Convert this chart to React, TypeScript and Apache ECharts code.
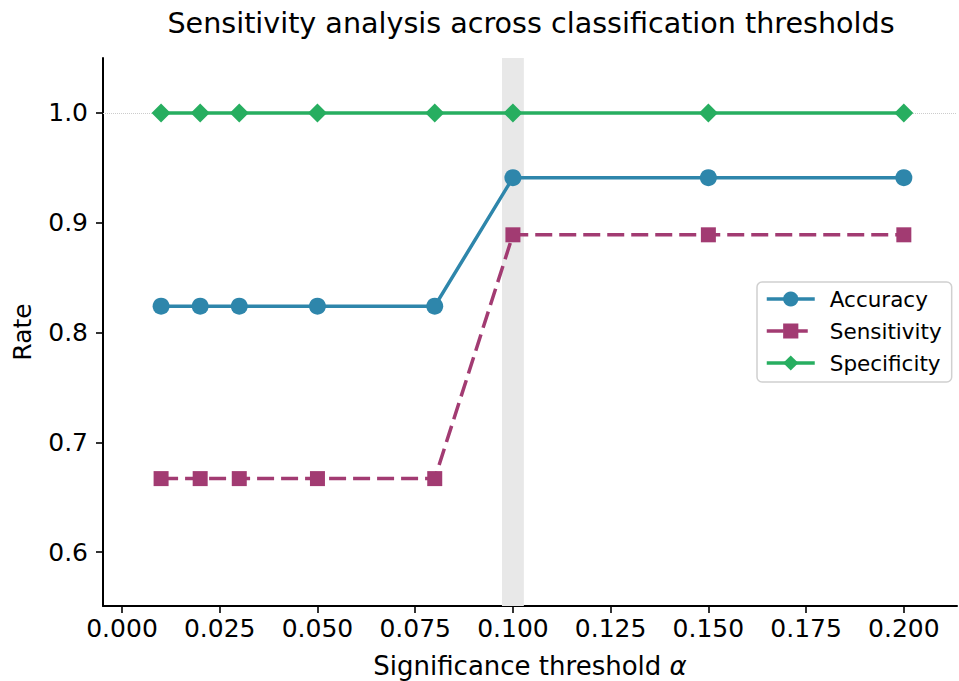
import React, { useEffect, useRef } from "react";
import * as echarts from "echarts";

const alphas = [0.01, 0.02, 0.03, 0.05, 0.08, 0.1, 0.15, 0.2];
const accuracy = [0.824, 0.824, 0.824, 0.824, 0.824, 0.941, 0.941, 0.941];
const sensitivity = [0.667, 0.667, 0.667, 0.667, 0.667, 0.889, 0.889, 0.889];
const specificity = [1.0, 1.0, 1.0, 1.0, 1.0, 1.0, 1.0, 1.0];
const xTicks = [0, 0.025, 0.05, 0.075, 0.1, 0.125, 0.15, 0.175, 0.2];
const yTicks = [0.6, 0.7, 0.8, 0.9, 1.0];
const band = [0.0972, 0.1028];
const refLine = 1.0;

const FONT = "DejaVu Sans";

export default function App() {
  const ref = useRef<HTMLDivElement>(null);
  useEffect(() => {
    if (!ref.current) return;
    const chart = echarts.init(ref.current, null, { renderer: "svg" });
    const pair = (ys: number[]) => alphas.map((x, i) => [x, ys[i]]);
    chart.setOption({
      animation: false,
      backgroundColor: "#ffffff",
      textStyle: { fontFamily: FONT },
      title: {
        text: "Sensitivity analysis across classification thresholds",
        left: 531,
        top: 8,
        textAlign: "center",
        padding: 0,
        textStyle: { fontFamily: FONT, fontSize: 28.6, fontWeight: "normal", color: "#000" },
      },
      grid: { left: 103, right: 2, top: 58, bottom: 75, outerBoundsMode: "none", containLabel: false },
      legend: {
        orient: "vertical",
        left: 757,
        top: 282,
        padding: [6, 10, 8, 8],
        itemWidth: 48,
        itemHeight: 19,
        itemGap: 10,
        backgroundColor: "rgba(255,255,255,0.85)",
        borderColor: "#d0d0d0",
        borderWidth: 1.5,
        borderRadius: 5,
        lineStyle: { width: 3.5 },
        textStyle: { fontFamily: FONT, fontSize: 21.5, color: "#000", padding: [0, 0, 0, 10] },
        data: ["Accuracy", "Sensitivity", "Specificity"],
      },
      xAxis: {
        type: "value",
        min: -0.00486,
        max: 0.2136,
        name: "Significance threshold {i|α}",
        nameLocation: "middle",
        nameGap: 47,
        nameTextStyle: {
          fontFamily: FONT,
          fontSize: 26,
          color: "#000",
          rich: { i: { fontFamily: FONT, fontSize: 26, fontStyle: "italic", color: "#000" } },
        },
        axisLine: { show: true, onZero: false, lineStyle: { color: "#000", width: 2 } },
        axisTick: { show: true, length: 7, customValues: xTicks, lineStyle: { color: "#000", width: 1.6 } },
        axisLabel: {
          customValues: xTicks,
          margin: 10,
          fontFamily: FONT,
          fontSize: 25,
          color: "#000",
          formatter: (v: number) => v.toFixed(3),
        },
        splitLine: { show: false },
      },
      yAxis: {
        type: "value",
        min: 0.551,
        max: 1.05,
        name: "Rate",
        nameLocation: "middle",
        nameGap: 68,
        nameTextStyle: { fontFamily: FONT, fontSize: 25, color: "#000" },
        axisLine: { show: true, onZero: false, lineStyle: { color: "#000", width: 2 } },
        axisTick: { show: true, length: 7, customValues: yTicks, lineStyle: { color: "#000", width: 1.6 } },
        axisLabel: {
          customValues: yTicks,
          margin: 15,
          fontFamily: FONT,
          fontSize: 25,
          color: "#000",
          formatter: (v: number) => v.toFixed(1),
        },
        splitLine: { show: false },
      },
      series: [
        {
          name: "_band",
          type: "line",
          data: pair(specificity),
          symbol: "none",
          lineStyle: { opacity: 0 },
          silent: true,
          z: 1,
          markArea: {
            silent: true,
            itemStyle: { color: "#e8e8e8" },
            data: [[{ xAxis: band[0] }, { xAxis: band[1] }]],
          },
          markLine: {
            silent: true,
            symbol: "none",
            label: { show: false },
            lineStyle: { color: "#cccccc", type: "dotted", width: 1 },
            data: [{ yAxis: refLine }],
          },
        },
        {
          name: "Accuracy",
          type: "line",
          data: pair(accuracy),
          color: "#2E86AB",
          symbol: "circle",
          symbolSize: 17,
          lineStyle: { width: 3.5 },
          itemStyle: { color: "#2E86AB" },
          z: 3,
        },
        {
          name: "Sensitivity",
          type: "line",
          data: pair(sensitivity),
          color: "#A23B72",
          symbol: "rect",
          symbolSize: 15,
          lineStyle: { width: 3.5, type: [17, 7] },
          itemStyle: { color: "#A23B72" },
          z: 4,
        },
        {
          name: "Specificity",
          type: "line",
          data: pair(specificity),
          color: "#27AE60",
          symbol: "diamond",
          symbolSize: 19,
          lineStyle: { width: 3.5 },
          itemStyle: { color: "#27AE60" },
          z: 5,
        },
      ],
    });
    return () => chart.dispose();
  }, []);
  return (
    <div
      ref={ref}
      style={{ position: "fixed", left: 0, top: 0, width: 959, height: 681 }}
    />
  );
}
